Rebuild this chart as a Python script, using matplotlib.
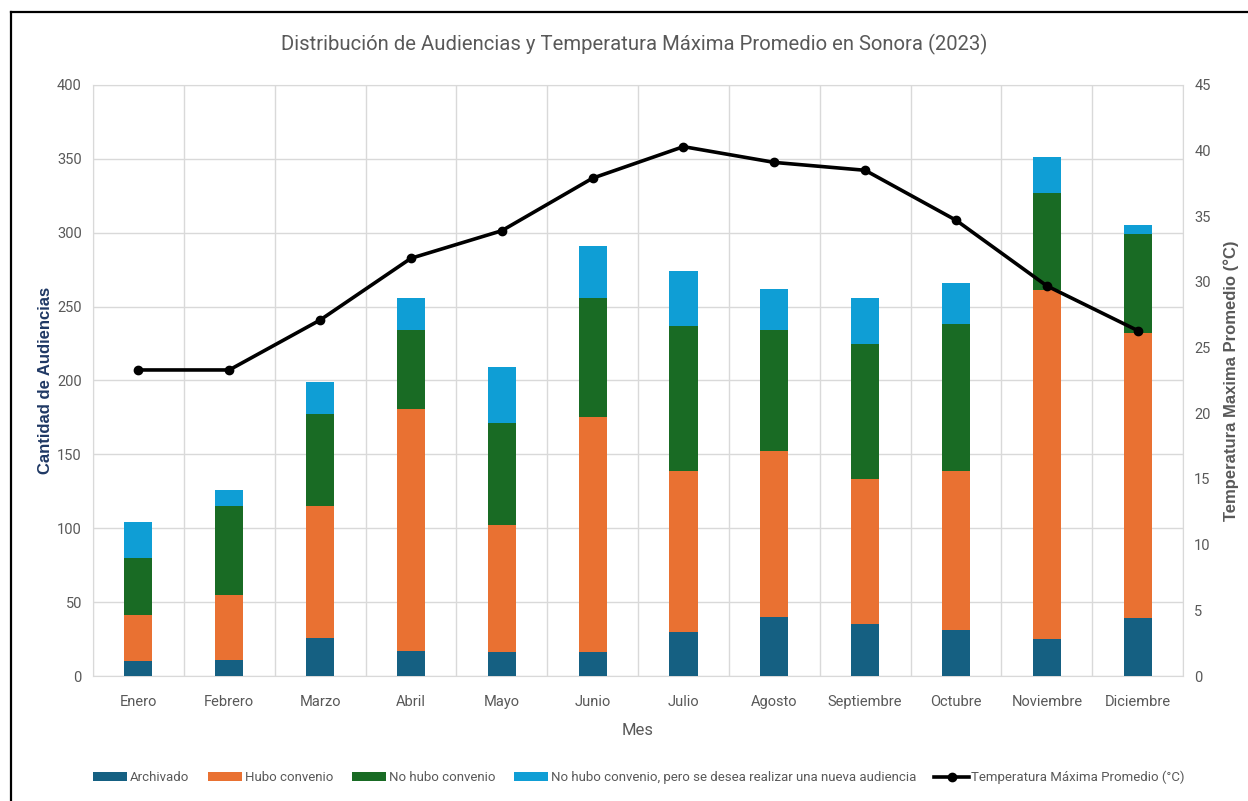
import numpy as np
import matplotlib
matplotlib.use("Agg")
from matplotlib import pyplot as plt
from matplotlib.lines import Line2D

plt.rcParams['font.family'] = ['Roboto', 'DejaVu Sans']

meses = ['Enero', 'Febrero', 'Marzo', 'Abril', 'Mayo', 'Junio', 'Julio',
         'Agosto', 'Septiembre', 'Octubre', 'Noviembre', 'Diciembre']
archivado = [10, 11, 26, 17, 16, 16, 30, 40, 35, 31, 25, 39]
hubo_convenio = [31, 44, 89, 164, 86, 159, 109, 112, 98, 108, 236, 193]
no_hubo_convenio = [39, 60, 62, 53, 69, 81, 98, 82, 92, 99, 66, 67]
nueva_audiencia = [24, 11, 22, 22, 38, 35, 37, 28, 31, 28, 24, 6]
temperatura = [23.3, 23.3, 27.1, 31.8, 33.9, 37.9, 40.3, 39.1, 38.5, 34.7, 29.7, 26.3]

series = [
    ('Archivado', archivado, '#156082'),
    ('Hubo convenio', hubo_convenio, '#E97132'),
    ('No hubo convenio', no_hubo_convenio, '#196B24'),
    ('No hubo convenio, pero se desea realizar una nueva audiencia', nueva_audiencia, '#0F9ED5'),
]

gray = '#595959'
grid = '#D9D9D9'

fig = plt.figure(figsize=(12.48, 8.01), dpi=100)
ax = fig.add_axes([0.0745, 0.156, 0.8735, 0.738])
x = np.arange(len(meses))

bottom = np.zeros(len(meses))
handles = []
for name, vals, col in series:
    b = ax.bar(x, vals, width=0.31, bottom=bottom, color=col, label=name, zorder=3)
    bottom += np.array(vals)
    handles.append(b)

ax.set_xlim(-0.5, len(meses) - 0.5)
ax.set_ylim(0, 400)
ax.set_yticks(range(0, 401, 50))
ax.set_xticks(x)
ax.set_xticklabels(meses)
ax.set_xticks(np.arange(-0.5, len(meses)), minor=True)
ax.grid(True, which='minor', axis='x', color=grid, lw=1, zorder=0)
ax.grid(True, which='major', axis='y', color=grid, lw=1, zorder=0)
ax.tick_params(which='both', length=0)
ax.tick_params(axis='y', labelsize=10.5, colors=gray, pad=8)
ax.tick_params(axis='x', labelsize=10.5, colors=gray, pad=14)
for s in ax.spines.values():
    s.set_color(grid)
ax.set_xlabel('Mes', fontsize=12, color=gray, labelpad=10)
ax.set_ylabel('Cantidad de Audiencias', fontsize=12, color='#1F3864',
              fontweight='bold', family=['Liberation Sans', 'DejaVu Sans'], labelpad=3)

ax2 = ax.twinx()
ax2.set_ylim(0, 45)
ax2.set_yticks(range(0, 46, 5))
ln, = ax2.plot(x, temperatura, color='black', lw=2.6, marker='o', markersize=6,
               label='Temperatura Máxima Promedio (°C)', zorder=5)
ax2.tick_params(length=0, labelsize=10.5, colors=gray, pad=8)
for s in ax2.spines.values():
    s.set_visible(False)
ax2.set_ylabel('Temperatura Maxima Promedio (°C)', fontsize=12, color=gray,
               fontweight='bold', family=['Liberation Sans', 'DejaVu Sans'], labelpad=9)

fig.suptitle('Distribución de Audiencias y Temperatura Máxima Promedio en Sonora (2023)',
             x=0.508, y=0.958, fontsize=14.6, color=gray)

fig.legend(handles + [ln], [h.get_label() for h in handles] + [ln.get_label()],
           loc='center', bbox_to_anchor=(0.512, 0.029), ncol=5, frameon=False,
           fontsize=9.5, labelcolor=gray, handlelength=2.6, handleheight=0.7,
           handletextpad=0.2, columnspacing=1.4)

fig.add_artist(Line2D([0.009, 0.009], [0, 0.985], transform=fig.transFigure, color='black', lw=1.6))
fig.add_artist(Line2D([0.009, 1], [0.985, 0.985], transform=fig.transFigure, color='black', lw=1.6))

plt.savefig('out.png', dpi=100)
